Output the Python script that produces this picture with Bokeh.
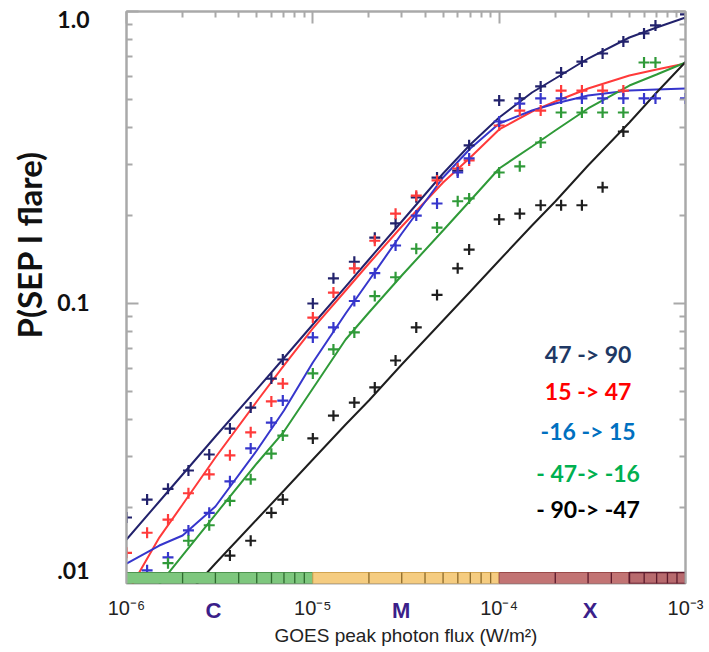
from bokeh.plotting import figure
from bokeh.models import (Range1d, LogAxis, FixedTicker, Label, Title,
                          CustomJSTickFormatter)
from bokeh.embed import file_html
from bokeh.resources import INLINE
import json

# ---------------- data ----------------
flux = [1.0e-6, 1.29e-6, 1.67e-6, 2.15e-6, 2.78e-6, 3.59e-6, 4.64e-6, 5.99e-6, 6.9e-6,
        1.0e-5, 1.29e-5, 1.67e-5, 2.15e-5, 2.78e-5, 3.59e-5, 4.64e-5, 5.99e-5, 6.9e-5,
        1.0e-4, 1.29e-4, 1.67e-4, 2.15e-4, 2.78e-4, 3.59e-4, 4.64e-4, 5.99e-4, 6.9e-4,
        1.0e-3]

p_47_90 = [0.0185, 0.0213, 0.0232, 0.0268, 0.0304, 0.0373, 0.0440, 0.0553, 0.0643,
           0.100, 0.122, 0.139, 0.168, 0.188, 0.231, 0.270, 0.285, 0.348,
           0.496, 0.504, 0.554, 0.618, 0.674, 0.718, 0.789, 0.841, 0.896, 0.977]
p_15_47 = [0.0140, 0.0164, 0.0182, 0.0224, 0.0260, 0.0302, 0.0362, 0.0462, 0.0532,
           0.0895, 0.109, 0.132, 0.164, 0.203, 0.234, 0.264, 0.290, 0.309,
           0.407, 0.458, 0.458, 0.536, 0.536, 0.536, 0.536, None, None, None]
p_m16_15 = [None, 0.0122, 0.0135, 0.0167, 0.0192, 0.0246, 0.0319, 0.0391, 0.0465,
            0.0765, 0.0828, 0.102, 0.127, 0.158, 0.200, 0.220, 0.281, 0.314,
            0.420, 0.484, 0.504, 0.504, 0.504, 0.504, 0.504, 0.504, 0.504, 0.504]
p_m47_m16 = [None, None, 0.0129, 0.0154, 0.0174, 0.0211, 0.0250, 0.0306, 0.0353,
             0.0576, 0.0696, 0.0796, 0.106, 0.123, 0.154, 0.182, 0.224, 0.229,
             0.281, 0.295, 0.356, 0.451, 0.451, 0.451, 0.451, 0.669, 0.669, None]
p_m90_m47 = [None, None, None, None, None, 0.0137, 0.0154, 0.0192, 0.0213,
             0.0345, 0.0413, 0.0458, 0.0516, 0.0638, 0.0828, 0.107, 0.132, 0.153,
             0.194, 0.203, 0.217, 0.217, 0.217, 0.250, 0.388, None, None, None]

fit_flux = [1e-6, 1.5e-6, 2e-6, 3e-6, 5e-6, 7e-6, 1e-5, 1.5e-5, 2e-5, 3e-5, 5e-5, 7e-5,
            1e-4, 1.5e-4, 2e-4, 3e-4, 5e-4, 7e-4, 1e-3]
fit_47_90 = [0.01555, 0.02099, 0.02596, 0.03504, 0.05077, 0.06508, 0.08475, 0.1143, 0.1415,
             0.1909, 0.2787, 0.3504, 0.4335, 0.5280, 0.5896, 0.6902, 0.8147, 0.8815, 0.9539]
fit_15_47 = [0.01008, 0.01579, 0.02049, 0.02969, 0.04617, 0.06135, 0.08213, 0.1108, 0.1371,
             0.1835, 0.2596, 0.3162, 0.3944, 0.4545, 0.4918, 0.5449, 0.6037, 0.6329, 0.6636]
fit_m16_15 = [0.01287, 0.01483, 0.01605, 0.02017, 0.03138, 0.04300, 0.06281, 0.09243, 0.1199,
              0.1737, 0.2701, 0.3395, 0.4134, 0.4581, 0.4841, 0.5157, 0.5362, 0.5404, 0.5449]
fit_m47_m16 = [0.00789, 0.01091, 0.01371, 0.01894, 0.02832, 0.03643, 0.05116, 0.07527, 0.09316,
               0.1247, 0.1778, 0.2253, 0.2900, 0.3449, 0.3913, 0.4654, 0.5579, 0.6085, 0.6688]
fit_m90_m47 = [0.006085, 0.008019, 0.009690, 0.01287, 0.01821, 0.02288, 0.02923, 0.03851, 0.04653,
               0.06183, 0.08747, 0.1099, 0.1404, 0.1849, 0.2235, 0.2969, 0.4168, 0.5280, 0.6716]

legend_texts = ["47 -> 90", "15 -> 47", "-16 -> 15", "- 47-> -16", "- 90-> -47"]
y_tick_labels = [".01", "0.1", "1.0"]
x_tick_labels = ["10\u207b\u2076", "10\u207b\u2075", "10\u207b\u2074", "10\u207b\u00b3"]
x_tick_values = [1e-6, 1e-5, 1e-4, 1e-3]
class_names = ["C", "M", "X"]
class_edges = [1e-6, 1e-5, 1e-4, 1e-3]
x_title = "GOES peak photon flux (W/m\u00b2)"
y_title = "P(SEP I flare)"

# ---------------- styling ----------------
series = [
    (p_47_90, fit_47_90, "#22226c"),
    (p_15_47, fit_15_47, "#ff3a3a"),
    (p_m16_15, fit_m16_15, "#3636cc"),
    (p_m47_m16, fit_m47_m16, "#2f9a38"),
    (p_m90_m47, fit_m90_m47, "#1e1e1e"),
]
legend_colors = ["#203864", "#ff0000", "#0070c0", "#00b050", "#000000"]

W, H = 709, 650
# picture pixel -> data helpers for placing texts (frame: x 126..685, y 11..583)
def X(px):
    return 10 ** (-6 + (px - 126) / 186.5)

def Y(py):
    return 10 ** (-(py - 11) / 292.0)

y_lo = Y(583)
bar_top = Y(572)

p = figure(width=W, height=H, x_axis_type="log", y_axis_type="log",
           x_range=Range1d(1e-6, 1e-3), y_range=Range1d(y_lo, 1.0),
           x_axis_location=None, y_axis_location=None,
           output_backend="svg", toolbar_location=None,
           min_border_left=126, min_border_right=W - 685, min_border_top=11,
           min_border_bottom=H - 583)
p.outline_line_color = "#a9a9a9"
p.outline_line_width = 2
p.background_fill_color = "white"
p.border_fill_color = "white"
for g in p.grid:
    g.visible = False

minor_y = [m * 10 ** e for e in (-2, -1) for m in range(2, 10)]
minor_x = [m * 10 ** e for e in (-6, -5, -4) for m in range(2, 10)]

def tick_axis(ticker):
    return LogAxis(ticker=ticker, axis_line_color="#a9a9a9", axis_line_width=2,
                   major_tick_in=12, major_tick_out=0, minor_tick_in=6, minor_tick_out=0,
                   major_tick_line_color="#a9a9a9", minor_tick_line_color="#a9a9a9",
                   major_tick_line_width=2, minor_tick_line_width=2,
                   major_label_text_font_size="1px", major_label_text_alpha=0,
                   major_label_standoff=0)

def label_axis(ticks, labels, **kw):
    return LogAxis(ticker=FixedTicker(ticks=ticks, minor_ticks=[]),
                   formatter=CustomJSTickFormatter(code="return %s[index];" % json.dumps(labels)),
                   axis_line_color=None, major_tick_line_color=None, minor_tick_line_color=None,
                   major_tick_in=0, major_tick_out=0, minor_tick_in=0, minor_tick_out=0, **kw)

cal = "Lato"
sans = "Liberation Sans"

# left: ticks, then the bold tick labels, then the title
p.add_layout(tick_axis(FixedTicker(ticks=[0.1, 1.0], minor_ticks=minor_y)), "left")
p.add_layout(label_axis([Y(570), Y(302), Y(19)], y_tick_labels, major_label_standoff=37,
                        major_label_text_font=cal, major_label_text_font_style="bold",
                        major_label_text_font_size="23px", major_label_text_color="#111111"),
             "left")
p.add_layout(Title(text=y_title, align="left", offset=245, vertical_align="middle",
                   text_font=cal, text_font_style="bold", text_font_size="33px",
                   text_color="#111111", standoff=10), "left")
p.add_layout(tick_axis(FixedTicker(ticks=[0.1, 1.0], minor_ticks=minor_y)), "right")
p.add_layout(tick_axis(FixedTicker(ticks=[1e-6, 1e-5, 1e-4, 1e-3], minor_ticks=minor_x)), "above")

# below: GOES class letters, then decade labels pulled up into the same row, with the title
p.add_layout(label_axis([X(213), X(401), X(590)], class_names, major_label_standoff=14,
                        major_label_text_font=sans, major_label_text_font_style="bold",
                        major_label_text_font_size="22px", major_label_text_color="#3b1f8a"),
             "below")
p.add_layout(label_axis(x_tick_values, x_tick_labels, major_label_standoff=-29,
                        major_label_text_font=sans, major_label_text_font_size="20px",
                        major_label_text_color="#222222",
                        axis_label=x_title, axis_label_standoff=3,
                        axis_label_text_font=sans, axis_label_text_font_style="normal",
                        axis_label_text_font_size="19px", axis_label_text_color="#222222"),
             "below")

# fitted curves and binned points
for pts, fit, col in series:
    p.line(fit_flux, fit, line_color=col, line_width=2)
for pts, fit, col in series:
    xs = [f for f, v in zip(flux, pts) if v is not None]
    ys = [v for v in pts if v is not None]
    p.scatter(xs, ys, marker="cross", size=11, line_width=2.2, line_color=col)

# GOES class bar along the bottom
bar_fill = ["#7ec77e", "#f5cc80", "#c27474"]
bar_line = ["#4f944f", "#d2a450", "#9a4a4a"]
p.quad(left=class_edges[:-1], right=class_edges[1:], bottom=y_lo, top=bar_top,
       fill_color=bar_fill, line_color=bar_line, line_width=1)
p.quad(left=[5e-4], right=[1e-3], bottom=y_lo, top=bar_top,
       fill_color="#b86a6e", line_color="#5c1a2c", line_width=1.5)
tick_cols = ["#2f6a2f", "#8c6a2a", "#5c1a2c"]
for i, e in enumerate((-6, -5, -4)):
    xs = [m * 10 ** e for m in range(2, 10)]
    p.segment(x0=xs, y0=[y_lo] * 8, x1=xs, y1=[bar_top] * 8,
              line_color=tick_cols[i], line_width=1.3)

# legend texts inside the plot
for txt, col, py in zip(legend_texts, legend_colors, [353, 390, 430, 472, 508]):
    p.add_layout(Label(x=X(588), y=Y(py), text=txt, text_align="center", text_baseline="middle",
                       text_font=cal, text_font_style="bold", text_font_size="23px",
                       text_color=col))

open("out.html", "w").write(file_html(p, INLINE))
